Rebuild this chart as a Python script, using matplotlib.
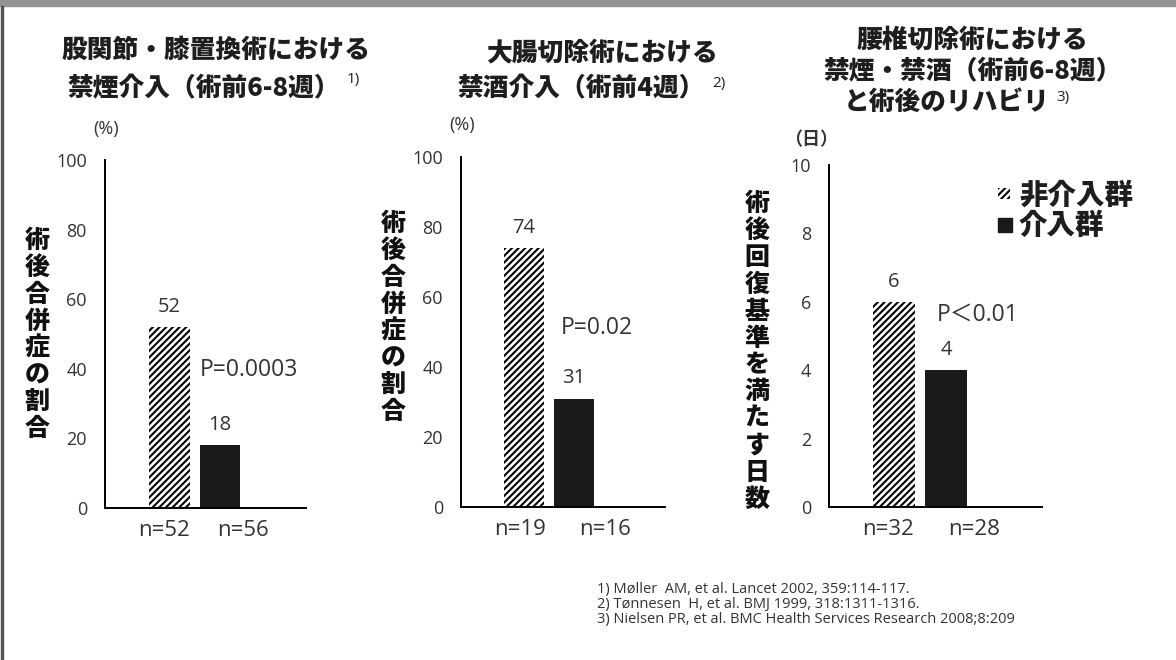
"""Perioperative smoking / alcohol cessation — three small bar panels."""
import matplotlib
matplotlib.use("Agg")
import matplotlib.pyplot as plt
from matplotlib.patches import Rectangle

plt.rcParams["hatch.linewidth"] = 1.5

W, H = 1176, 660
JP = ["Noto Sans CJK JP", "DejaVu Sans"]
NUM = ["Open Sans", "Noto Sans CJK JP", "DejaVu Sans"]
TXT = "#333333"

# ---- data -------------------------------------------------------------
groups = ["非介入群", "介入群"]

p1_values = [52, 18]
p1_n = ["n=52", "n=56"]
p1_p = "P=0.0003"
p1_ticks = [0, 20, 40, 60, 80, 100]

p2_values = [74, 31]
p2_n = ["n=19", "n=16"]
p2_p = "P=0.02"
p2_ticks = [0, 20, 40, 60, 80, 100]

p3_values = [6, 4]
p3_n = ["n=32", "n=28"]
p3_p = "P＜0.01"
p3_ticks = [0, 2, 4, 6, 8, 10]

p1_ylabel = "術後合併症の割合"
p2_ylabel = "術後合併症の割合"
p3_ylabel = "術後回復基準を満たす日数"

references = [
    "1) Møller  AM, et al. Lancet 2002, 359:114-117.",
    "2) Tønnesen  H, et al. BMJ 1999, 318:1311-1316.",
    "3) Nielsen PR, et al. BMC Health Services Research 2008;8:209",
]


def fx(x):
    return x / W


def fy(y):
    return 1 - y / H


fig = plt.figure(figsize=(W / 100, H / 100), dpi=100)

# frame: grey band on top, thin line on the left
fig.patches.append(Rectangle((0, fy(6)), 1, 6 / H, transform=fig.transFigure,
                             color="#939393", zorder=0))
fig.patches.append(Rectangle((fx(1), 0), 2 / W, fy(6), transform=fig.transFigure,
                             color="#555555", zorder=0))

panels = [
    dict(values=p1_values, n=p1_n, p=p1_p, ticks=p1_ticks, ylabel=p1_ylabel,
         rect=(105, 160, 306, 508), xlim=(-1.277, 2.703), width=0.81,
         n_x=(-0.11, 1.46), p_xy=(0.60, 39.7), unit="(%)", unit_xy=(106, 129),
         unit_bold=False, ylab_xy=(37, 334)),
    dict(values=p2_values, n=p2_n, p=p2_p, ticks=p2_ticks, ylabel=p2_ylabel,
         rect=(461, 157, 665, 507), xlim=(-1.26, 2.82), width=0.80,
         n_x=(-0.08, 1.62), p_xy=(0.74, 51.1), unit="(%)", unit_xy=(462, 125),
         unit_bold=False, ylab_xy=(393, 317)),
    dict(values=p3_values, n=p3_n, p=p3_p, ticks=p3_ticks, ylabel=p3_ylabel,
         rect=(829, 165, 1042, 507), xlim=(-1.25, 2.846), width=0.81,
         n_x=(-0.12, 1.54), p_xy=(0.83, 5.61), unit="（日）", unit_xy=(811, 140),
         unit_bold=True, ylab_xy=(757, 351)),
]

for pn in panels:
    l, t, r, b = pn["rect"]
    ax = fig.add_axes([fx(l), fy(b), (r - l) / W, (b - t) / H])
    ax.set_xlim(*pn["xlim"])
    ax.set_ylim(pn["ticks"][0], pn["ticks"][-1])

    ax.bar(0, pn["values"][0], width=pn["width"], facecolor="white",
           edgecolor="black", hatch="/////", linewidth=0)
    ax.bar(1, pn["values"][1], width=pn["width"], color="#1a1a1a", linewidth=0)

    for i, v in enumerate(pn["values"]):
        ax.annotate(f"{v}", (i, v), xytext=(0, 14.5), textcoords="offset points",
                    ha="center", va="center", fontsize=14.5, family=NUM, color=TXT)
    for x, lab in zip(pn["n_x"], pn["n"]):
        ax.annotate(lab, (x, 0), xytext=(0, -16), textcoords="offset points",
                    ha="center", va="center", fontsize=16, family=NUM, color=TXT,
                    annotation_clip=False)
    ax.text(*pn["p_xy"], pn["p"], ha="left", va="center", fontsize=16.5,
            family=NUM, color=TXT)

    ax.set_yticks(pn["ticks"])
    ax.set_yticklabels([str(v) for v in pn["ticks"]], family=NUM, fontsize=13,
                       color=TXT)
    ax.set_xticks([])
    ax.tick_params(axis="y", length=0, pad=13)
    ax.spines[["top", "right"]].set_visible(False)
    for s in ("left", "bottom"):
        ax.spines[s].set_linewidth(1.4)
        ax.spines[s].set_color("black")
    ax.patch.set_alpha(0)

    fig.text(fx(pn["unit_xy"][0]), fy(pn["unit_xy"][1]), pn["unit"],
             ha="center", va="center", fontsize=13,
             family=JP if pn["unit_bold"] else NUM,
             fontweight="bold" if pn["unit_bold"] else "normal", color=TXT)
    fig.text(fx(pn["ylab_xy"][0]), fy(pn["ylab_xy"][1]), "\n".join(pn["ylabel"]),
             ha="center", va="center", fontsize=18, family=JP, fontweight="black",
             linespacing=1.04, color="#111111")

# ---- titles -----------------------------------------------------------
title_lines = [
    ("股関節・膝置換術における", 216, 50, "center"),
    ("禁煙介入（術前6-8週）", 340, 88, "right"),
    ("大腸切除術における", 602, 52, "center"),
    ("禁酒介入（術前4週）", 705, 88, "right"),
    ("腰椎切除術における", 972, 40, "center"),
    ("禁煙・禁酒（術前6-8週）", 973, 70, "center"),
    ("と術後のリハビリ", 1050, 102, "right"),
]
for txt, x, y, ha in title_lines:
    fig.text(fx(x), fy(y), txt, ha=ha, va="center", fontsize=18.5, family=JP,
             fontweight="black", color="#1e1e1e")

for txt, x, y in [("1)", 347, 80), ("2)", 712, 83), ("3)", 1056, 97)]:
    fig.text(fx(x), fy(y), txt, ha="left", va="center", fontsize=11,
             family=NUM, color="#1e1e1e")

# ---- legend -----------------------------------------------------------
fig.patches.append(Rectangle((fx(998), fy(199)), 12 / W, 11 / H,
                             transform=fig.transFigure, facecolor="white",
                             edgecolor="black", hatch="/////", linewidth=0))
fig.patches.append(Rectangle((fx(998), fy(232)), 14 / W, 14 / H,
                             transform=fig.transFigure, color="#1a1a1a"))
for txt, y in zip(groups, [195, 225]):
    fig.text(fx(1019), fy(y), txt, ha="left", va="center", fontsize=20.5,
             family=JP, fontweight="black", color="#1e1e1e")

# ---- references -------------------------------------------------------
for i, ref in enumerate(references):
    fig.text(fx(597), fy(589 + 15.5 * i), ref, ha="left", va="center",
             fontsize=10.5, family=NUM, color=TXT)

fig.savefig("out.png", dpi=100)
